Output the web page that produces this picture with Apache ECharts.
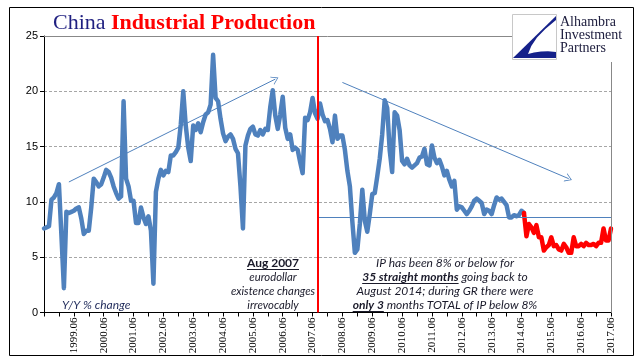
<!DOCTYPE html>
<html>
<head>
<meta charset="utf-8">
<script src="https://cdn.jsdelivr.net/npm/echarts@6/dist/echarts.min.js"></script>
<style>
html,body{margin:0;padding:0;background:#fff;}
#c{width:641px;height:361px;}
</style>
</head>
<body>
<div id="c"></div>
<script>
// ---- data (China industrial production, Y/Y % change), monthly from 1998.06 ----
const firstMonth = [1998, 6];
const lastMonth = [2017, 6];

// blue segment: 1998.06 - 2014.07
const blueIP = [
  7.6, 7.7, 7.8, 10.2, 10.4, 10.8, 11.6,                          // 1998.06-12
  7.0, 2.2, 9.1, 9.0, 9.1, 9.2, 9.4, 9.5, 8.5, 7.1, 7.4, 7.4,     // 1999
  9.5, 12.1, 11.8, 11.4, 11.6, 12.2, 12.9, 12.7, 12.2, 11.4, 10.8, 10.3, // 2000
  10.5, 19.1, 12.1, 11.4, 10.1, 10.1, 8.1, 8.1, 9.5, 8.6, 8.0, 8.7,     // 2001
  7.4, 2.6, 10.9, 12.1, 12.9, 12.4, 12.8, 12.7, 14.2, 14.2, 14.5, 14.9, // 2002
  17.0, 20.0, 16.9, 14.9, 13.7, 16.9, 16.5, 17.1, 16.3, 17.2, 17.9, 18.1, // 2003
  18.8, 23.3, 19.4, 19.1, 17.5, 16.2, 15.5, 15.9, 16.1, 15.7, 14.8, 14.4, // 2004
  11.4, 7.6, 15.1, 16.0, 16.6, 16.8, 16.1, 16.0, 16.5, 16.1, 16.6, 16.5,  // 2005
  18.6, 20.1, 17.8, 16.6, 17.9, 19.5, 16.7, 15.7, 16.1, 14.7, 14.9, 14.7, // 2006
  13.6, 12.6, 17.6, 17.4, 18.1, 19.4, 18.0, 17.5, 18.9, 17.9, 17.3, 17.4, // 2007
  16.6, 15.4, 17.8, 15.7, 16.0, 16.0, 14.7, 12.8, 11.4, 8.2, 5.4, 5.7,    // 2008
  8.0, 11.1, 8.3, 7.3, 8.9, 10.7, 10.8, 12.3, 13.9, 16.1, 19.2, 18.5,     // 2009
  14.7, 12.7, 18.1, 17.8, 16.5, 13.7, 13.4, 13.9, 13.3, 13.1, 13.3, 13.5, // 2010
  14.0, 14.1, 14.8, 13.4, 13.3, 15.1, 14.0, 13.5, 13.8, 13.2, 12.4, 12.8, // 2011
  12.0, 11.4, 11.9, 9.3, 9.6, 9.5, 9.2, 8.9, 9.2, 9.6, 10.1, 10.3,        // 2012
  10.1, 9.9, 8.9, 9.3, 9.2, 8.9, 9.7, 10.4, 10.2, 10.3, 10.0, 9.7,        // 2013
  8.6, 8.6, 8.8, 8.7, 8.8, 9.2, 9.0                                        // 2014.01-07
];
// red segment: 2014.07 - 2017.06
const redIP = [
  9.0, 6.9, 8.0, 7.7, 7.2, 7.9,                                            // 2014.07-12
  6.8, 6.8, 5.6, 5.9, 6.1, 6.8, 6.0, 6.1, 5.7, 5.6, 6.2, 5.9,              // 2015
  5.4, 5.4, 6.8, 6.0, 6.0, 6.2, 6.0, 6.3, 6.1, 6.1, 6.2, 6.0,              // 2016
  6.3, 6.3, 7.6, 6.5, 6.5, 7.6                                             // 2017.01-06
];
const yTicks = [0, 5, 10, 15, 20, 25];
const eventMonth = '2007.08';
const thresholdLevel = 8.6;
const riseArrow = [['1999.04', 11.8], ['2006.03', 21.1]];
const fallArrow = [['2008.06', 20.8], ['2016.01', 12.1]];

// ---- build categories ----
const months = [];
for (let y = firstMonth[0]; y <= lastMonth[0]; y++) {
  for (let m = 1; m <= 12; m++) {
    if (y === firstMonth[0] && m < firstMonth[1]) continue;
    if (y === lastMonth[0] && m > lastMonth[1]) continue;
    months.push(y + '.' + (m < 10 ? '0' + m : m));
  }
}
const N = months.length;
const blueData = months.map((_, i) => i < blueIP.length ? blueIP[i] : null);
const redStart = blueIP.length - 1;
const redData = months.map((_, i) => (i >= redStart && i - redStart < redIP.length) ? redIP[i - redStart] : null);

const chart = echarts.init(document.getElementById('c'), null, {renderer: 'canvas'});

// text measuring helper for annotations
const mctx = document.createElement('canvas').getContext('2d');
function measure(font, t) { mctx.font = font; return mctx.measureText(t).width; }
const annoFamily = 'Lato';
const annoColor = '#1a1a2a';
function fontOf(seg, size) {
  return (seg.i === false ? '' : 'italic ') + (seg.b ? 'bold ' : '') + size + 'px ' + annoFamily;
}
const graphics = [];
function line(segs, cx, y, size) {
  size = size || 12;
  let total = 0;
  segs.forEach(s => { s.w = measure(fontOf(s, size), s.t); total += s.w; });
  let x = cx - total / 2;
  segs.forEach(s => {
    graphics.push({type: 'text', x: x, y: y, z: 100,
      style: {text: s.t, font: fontOf(s, size), fill: annoColor, align: 'left', verticalAlign: 'middle'}});
    if (s.u) {
      graphics.push({type: 'line', z: 100, shape: {x1: x, y1: y + 6.5, x2: x + s.w, y2: y + 6.5},
        style: {stroke: annoColor, lineWidth: 1}});
    }
    x += s.w;
  });
}
line([{t: 'Aug 2007', b: true, u: true, i: false}], 273, 263, 12);
line([{t: 'eurodollar'}], 273, 277, 11.3);
line([{t: 'existence changes'}], 273, 291, 11.3);
line([{t: 'irrevocably'}], 273, 305, 11.3);
line([{t: 'IP has been 8% or below for'}], 445, 263);
line([{t: '35 straight months', b: true, u: true}, {t: ' going back to'}], 445, 277);
line([{t: 'August 2014; during GR there were'}], 445, 291);
line([{t: 'only 3', b: true, u: true}, {t: ' months TOTAL of IP below 8%'}], 445, 305);
graphics.push({type: 'text', x: 62, y: 305, z: 100,
  style: {text: 'Y/Y % change', font: 'italic 12px ' + annoFamily, fill: '#1f2a5a', align: 'left', verticalAlign: 'middle'}});

// frame
graphics.push({type: 'rect', z: 1, shape: {x: 9.5, y: 7.5, width: 624, height: 348},
  style: {fill: 'none', stroke: '#000', lineWidth: 1}});
// title
graphics.push({type: 'text', x: 53, y: 23, z: 100,
  style: {
    text: '{a|China }{b|Industrial Production}',
    verticalAlign: 'middle', align: 'left',
    rich: {
      a: {font: '22px "Liberation Serif"', fill: '#1f1f80'},
      b: {font: 'bold 22px "Liberation Serif"', fill: '#ff0000'}
    }
  }});
// logo
graphics.push({type: 'rect', z: 99, shape: {x: 557, y: 10, width: 74, height: 52}, style: {fill: '#fff'}});
graphics.push({type: 'rect', z: 100, shape: {x: 512.5, y: 14.5, width: 44, height: 45},
  style: {fill: '#fff', stroke: '#c8c8c8', lineWidth: 1}});
graphics.push({type: 'polygon', z: 101, shape: {points: [[556, 16], [513, 58], [556, 58]]},
  style: {fill: '#15218a'}});
graphics.push({type: 'polygon', z: 102,
  shape: {points: [[528, 54], [531.3, 45.9], [537, 37.5], [545.3, 28.9], [556, 20],
                   [556, 52], [548, 51.2], [541, 51.5], [534, 52.6]]},
  style: {fill: '#fff'}});
['Alhambra', 'Investment', 'Partners'].forEach((t, k) => {
  graphics.push({type: 'text', x: 560, y: 22 + k * 13, z: 100,
    style: {text: t, font: '14px "Liberation Serif"', fill: '#202040', align: 'left', verticalAlign: 'middle'}});
});

const chevron = 'path://M10,0 L20,20 L18,20 L10,4 L2,20 L0,20 Z';

const option = {
  animation: false,
  backgroundColor: '#fff',
  grid: {left: 44, right: 30, top: 36, bottom: 48.5, containLabel: false},
  xAxis: {
    type: 'category', data: months, boundaryGap: false,
    axisLine: {lineStyle: {color: '#000', width: 1}},
    axisTick: {show: true, length: 4, interval: (i) => i % 6 === 0, lineStyle: {color: '#000'}},
    axisLabel: {
      interval: (i, v) => i > 0 && v.endsWith('.06'),
      rotate: 90, margin: 5, color: '#000', fontSize: 11, fontFamily: 'Liberation Serif'
    },
    splitLine: {show: false}
  },
  yAxis: {
    type: 'value', min: yTicks[0], max: yTicks[yTicks.length - 1], interval: 5,
    axisLine: {show: true, lineStyle: {color: '#000'}},
    axisTick: {show: true, length: 4, lineStyle: {color: '#000'}},
    axisLabel: {color: '#000', fontSize: 11, fontFamily: 'Liberation Sans', margin: 6},
    splitLine: {show: true, lineStyle: {color: '#a6a6a6', type: [3, 2], width: 1}}
  },
  series: [
    {
      type: 'line', data: blueData, symbol: 'none', connectNulls: false, z: 3,
      lineStyle: {color: '#4f81bd', width: 4.5, cap: 'round', join: 'round'},
      markLine: {
        silent: true, symbol: 'none', animation: false, label: {show: false},
        data: [
          [{coord: [riseArrow[0][0], riseArrow[0][1]], symbol: 'none'},
           {coord: [riseArrow[1][0], riseArrow[1][1]], symbol: chevron, symbolSize: [9, 7],
            lineStyle: {color: '#4f81bd', width: 1, type: 'solid'}, itemStyle: {color: '#4f81bd'}}],
          [{coord: [fallArrow[0][0], fallArrow[0][1]], symbol: 'none'},
           {coord: [fallArrow[1][0], fallArrow[1][1]], symbol: chevron, symbolSize: [9, 7],
            lineStyle: {color: '#4f81bd', width: 1, type: 'solid'}, itemStyle: {color: '#4f81bd'}}],
          [{coord: [eventMonth, thresholdLevel]},
           {coord: [months[N - 1], thresholdLevel], lineStyle: {color: '#4f81bd', width: 1, type: 'solid'}}],
          {yAxis: yTicks[yTicks.length - 1], lineStyle: {color: '#888', width: 1, type: 'solid'}},
          {xAxis: months[N - 1], lineStyle: {color: '#888', width: 1, type: 'solid'}}
        ],
        lineStyle: {color: '#4f81bd', width: 1, type: 'solid'}
      }
    },
    {
      type: 'line', data: redData, symbol: 'none', z: 4,
      lineStyle: {color: '#ff0000', width: 4.5, cap: 'round', join: 'round'},
      markLine: {
        silent: true, symbol: 'none', animation: false, label: {show: false},
        data: [{xAxis: eventMonth}],
        lineStyle: {color: '#ff0000', width: 2, type: 'solid'}
      }
    }
  ],
  graphic: graphics
};
chart.setOption(option);
</script>
</body>
</html>
